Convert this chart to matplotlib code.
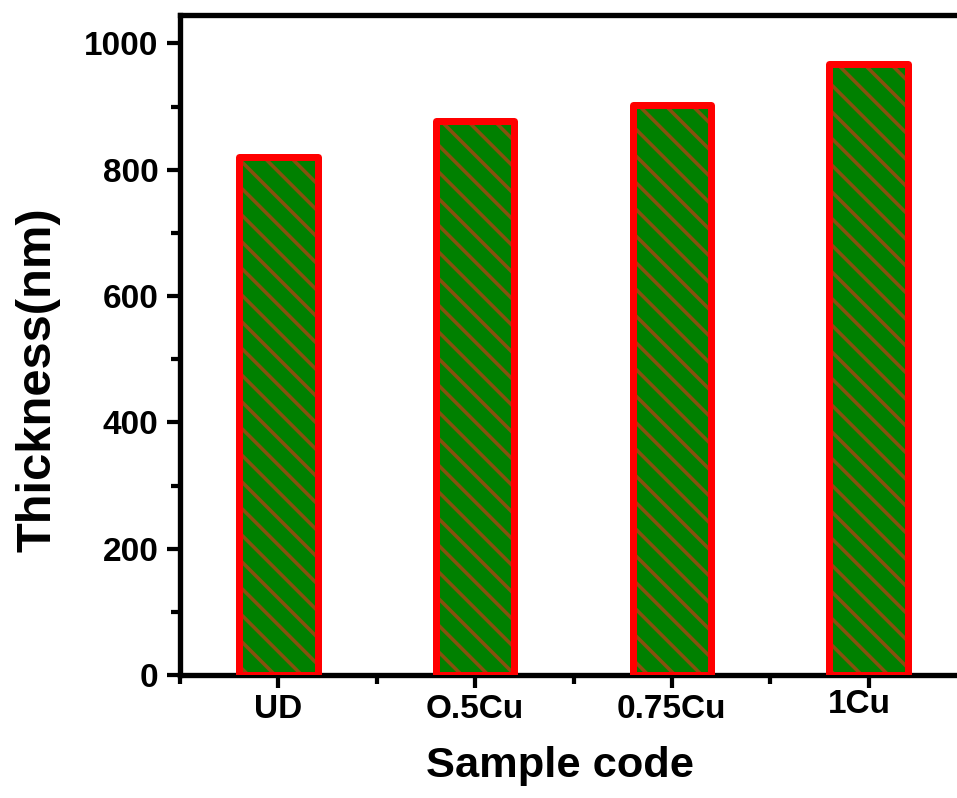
import matplotlib
matplotlib.use('Agg')
import matplotlib.pyplot as plt
import matplotlib.transforms as mtransforms
import numpy as np
from matplotlib.ticker import MultipleLocator

samples = ['UD', 'O.5Cu', '0.75Cu', '1Cu']
thickness = [820, 877, 903, 967]

DPI = 80
plt.rcParams['font.family'] = ['Liberation Sans', 'DejaVu Sans']
plt.rcParams['font.weight'] = 'bold'
plt.rcParams['hatch.linewidth'] = 3.2

fig = plt.figure(figsize=(957 / DPI, 798 / DPI), dpi=DPI)
ax = fig.add_axes([180 / 957, 1 - 675 / 798, 787 / 957, 660 / 798])

x = np.arange(len(samples))
# green fill with brown hatch, then the thick red outline on top
ax.bar(x, thickness, width=0.4, color='#008000', edgecolor='#86500e',
       linewidth=0, hatch='\\', zorder=2)
ax.bar(x, thickness, width=0.4, fill=False, edgecolor='#ff0000',
       linewidth=6.3, joinstyle='round', zorder=3)

ax.set_xlim(-0.5, 3.5)
ax.set_ylim(0, 1045)
ax.set_xticks(x)
ax.set_xticklabels(samples)
ax.xaxis.set_minor_locator(MultipleLocator(1, offset=0.5))
ax.yaxis.set_major_locator(MultipleLocator(200))
ax.yaxis.set_minor_locator(MultipleLocator(100))

for side in ax.spines.values():
    side.set_linewidth(4.8)
ax.tick_params(which='major', direction='out', length=11.5, width=3.8,
               labelsize=30, pad=8)
ax.tick_params(which='minor', direction='out', length=8, width=3.8)
ax.tick_params(axis='x', which='major', pad=6)

# the last label sits a bit left and up in the original
lbl = ax.get_xticklabels()[-1]
lbl.set_transform(lbl.get_transform()
                  + mtransforms.ScaledTranslation(-9 / DPI, 5 / DPI, fig.dpi_scale_trans))

ax.set_xlabel('Sample code', fontsize=39, fontweight='bold')
ax.set_ylabel('Thickness(nm)', fontsize=44, fontweight='bold')
ax.xaxis.set_label_coords(0.483, -0.108)
ax.yaxis.set_label_coords(-0.152, 0.447)

fig.savefig('out.png', dpi=DPI)
